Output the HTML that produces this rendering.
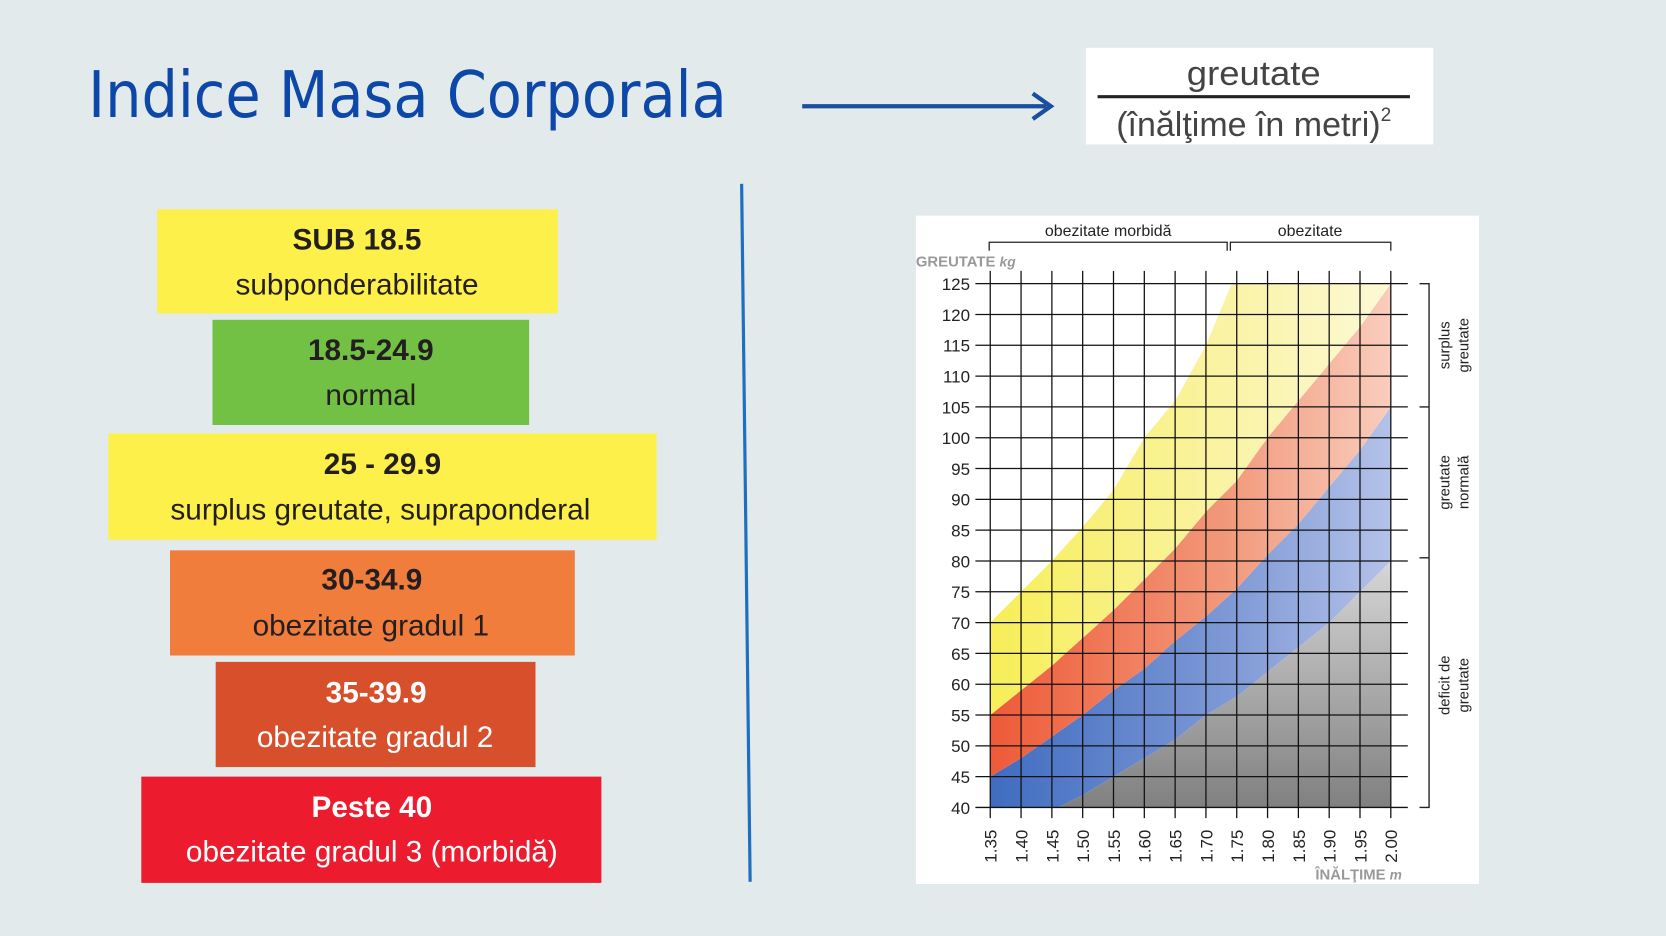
<!DOCTYPE html>
<html><head><meta charset="utf-8"><style>
html,body{margin:0;padding:0;background:#e2eaec;}
svg{display:block}
.nar{font-family:"Liberation Sans Narrow","Liberation Sans",sans-serif;}
</style></head><body>
<svg id="s" width="1666" height="936" viewBox="0 0 1568 881" preserveAspectRatio="none" xmlns="http://www.w3.org/2000/svg">
<defs>
<linearGradient id="gy" x1="932" x2="1309" y1="0" y2="0" gradientUnits="userSpaceOnUse"><stop offset="0" stop-color="#f7ee58"/><stop offset="0.6" stop-color="#faf3a6"/><stop offset="1" stop-color="#fdf9d6"/></linearGradient>
<linearGradient id="gr" x1="932" x2="1309" y1="0" y2="0" gradientUnits="userSpaceOnUse"><stop offset="0" stop-color="#ee5a38"/><stop offset="0.6" stop-color="#f29a7c"/><stop offset="1" stop-color="#f9cdbd"/></linearGradient>
<linearGradient id="gb" x1="932" x2="1309" y1="0" y2="0" gradientUnits="userSpaceOnUse"><stop offset="0" stop-color="#3f6cc0"/><stop offset="0.6" stop-color="#7f99d6"/><stop offset="1" stop-color="#b4c2e8"/></linearGradient>
<linearGradient id="gg" x1="0" x2="0" y1="760" y2="530" gradientUnits="userSpaceOnUse"><stop offset="0" stop-color="#808080"/><stop offset="1" stop-color="#d6d6d6"/></linearGradient>
</defs>
<rect width="1568" height="881" fill="#e2eaec"/>
<text x="83" y="110" font-family="'DejaVu Sans','Liberation Sans',sans-serif" font-size="60" fill="#0d47a8" textLength="601" lengthAdjust="spacingAndGlyphs">Indice Masa Corporala</text>
<line x1="755" y1="100" x2="985" y2="100" stroke="#1a4fa0" stroke-width="4"/>
<path d="M972 88 L989 100 L972 112" fill="none" stroke="#1a4fa0" stroke-width="4"/>
<rect x="1022" y="45" width="327" height="91" fill="#fff"/>
<text x="1180" y="80" text-anchor="middle" class="nar" font-size="32" fill="#444" textLength="126" lengthAdjust="spacingAndGlyphs">greutate</text>
<line x1="1033" y1="91" x2="1327" y2="91" stroke="#222" stroke-width="3"/>
<text x="1180" y="128" text-anchor="middle" class="nar" font-size="32" fill="#444">(înălţime în metri)<tspan font-size="18" dy="-14">2</tspan></text>
<line x1="698" y1="173" x2="706" y2="830" stroke="#1f6fc1" stroke-width="3"/>
<g class="nar" text-anchor="middle" font-size="28">
<rect x="148" y="197" width="377" height="98" fill="#fdf04a"/>
<text x="336" y="235" font-weight="bold" fill="#231f20">SUB 18.5</text>
<text x="336" y="277" fill="#231f20">subponderabilitate</text>
<rect x="200" y="301" width="298" height="99" fill="#72c044"/>
<text x="349" y="339" font-weight="bold" fill="#231f20">18.5-24.9</text>
<text x="349" y="381" fill="#231f20">normal</text>
<rect x="102" y="408" width="516" height="100" fill="#fdf04a"/>
<text x="360" y="446" font-weight="bold" fill="#231f20">25 - 29.9</text>
<text x="358" y="489" fill="#231f20">surplus greutate, supraponderal</text>
<rect x="160" y="518" width="381" height="99" fill="#f07d3c"/>
<text x="350" y="555" font-weight="bold" fill="#231f20">30-34.9</text>
<text x="349" y="598" fill="#231f20">obezitate gradul 1</text>
<rect x="203" y="623" width="301" height="99" fill="#d84f2c"/>
<text x="354" y="661" font-weight="bold" fill="#fff">35-39.9</text>
<text x="353" y="703" fill="#fff">obezitate gradul 2</text>
<rect x="133" y="731" width="433" height="100" fill="#ec1c2e"/>
<text x="350" y="769" font-weight="bold" fill="#fff">Peste 40</text>
<text x="350" y="811" fill="#fff">obezitate gradul 3 (morbidă)</text>
</g>
<rect x="862" y="203" width="530" height="629" fill="#fff"/>
<g id="bands"></g>
<g id="grid" stroke="#111" stroke-width="1.2"></g>
<g id="lab" font-family="'Liberation Sans',sans-serif" font-size="16" fill="#222"></g>
<g font-family="'Liberation Sans',sans-serif" font-size="15" fill="#222" text-anchor="middle">
<text x="1043" y="222">obezitate morbidă</text>
<text x="1233" y="222">obezitate</text>
</g>
<path d="M931 236 V228 H1155 V236 M1158 236 V228 H1309 V236" fill="none" stroke="#222" stroke-width="1.2"/>
<text x="862" y="251" font-family="'Liberation Sans',sans-serif" font-size="14" font-weight="bold" fill="#999">GREUTATE <tspan font-style="italic" font-size="13">kg</tspan></text>
<text x="1238" y="828" font-family="'Liberation Sans',sans-serif" font-size="14" font-weight="bold" fill="#999">ÎNĂLŢIME <tspan font-style="italic" font-size="13">m</tspan></text>
<path d="M1336 267 H1345 V760 H1336 M1336 383 H1345 M1336 525 H1345" fill="none" stroke="#222" stroke-width="1.3"/>
<g font-family="'Liberation Sans',sans-serif" font-size="14" fill="#222" text-anchor="middle">
<text transform="translate(1364,325) rotate(-90)">surplus</text>
<text transform="translate(1382,325) rotate(-90)">greutate</text>
<text transform="translate(1364,454) rotate(-90)">greutate</text>
<text transform="translate(1382,454) rotate(-90)">normală</text>
<text transform="translate(1364,645) rotate(-90)">deficit de</text>
<text transform="translate(1382,645) rotate(-90)">greutate</text>
</g>
</svg>
<script>
(function(){
var NS="http://www.w3.org/2000/svg";
function X(h){return 932+580*(h-1.35);}
function Y(w){return 760-(w-40)*5.8;}
function el(p,t,a){var e=document.createElementNS(NS,t);for(var k in a)e.setAttribute(k,a[k]);document.getElementById(p).appendChild(e);return e;}
var hs=[1.35,1.40,1.45,1.50,1.55,1.60,1.65,1.70,1.75,1.80,1.85,1.90,1.95,2.00];
var B0=[40,40,40,40,40,40,40,40,40,40,40,40,40,40];
var B1=[37,38.5,39.5,42,45,48,51,55,58,62,66,70,75,80];
var B2=[45,48,51.5,55,59,62.5,67,71,75.5,81,86,92,98,105];
var B3=[55,59,63,67.5,72,77,82,88,93,100,106,112,118,125];
var B4=[70,75,80,85.5,91.5,100,106,115,127,135,145,155,165,175];
function cl(w){return Math.max(40,Math.min(125,w));}
function band(lo,hi,fill){
  var pts=[],i;
  // fine sampling with linear interpolation, clipped
  for(i=0;i<=130;i++){var h=1.35+i*0.005,k=Math.min(12,Math.floor(i/10)),f=(h-hs[k])/0.05;
    pts.push(X(h).toFixed(1)+","+Y(cl(hi[k]+(hi[k+1]-hi[k])*f)).toFixed(1));}
  for(i=130;i>=0;i--){var h=1.35+i*0.005,k=Math.min(12,Math.floor(i/10)),f=(h-hs[k])/0.05;
    pts.push(X(h).toFixed(1)+","+Y(cl(lo[k]+(lo[k+1]-lo[k])*f)).toFixed(1));}
  el("bands","polygon",{points:pts.join(" "),fill:fill});
}
band(B0,B1,"url(#gg)");
band(B1,B2,"url(#gb)");
band(B2,B3,"url(#gr)");
band(B3,B4,"url(#gy)");
for(var w=40;w<=125;w+=5){
  el("grid","line",{x1:918,x2:1325,y1:Y(w),y2:Y(w)});
  var t=el("lab","text",{x:913,y:Y(w)+6,"text-anchor":"end"});t.textContent=w;
}
for(var i=0;i<=13;i++){
  var h=1.35+i*0.05,x=X(h);
  el("grid","line",{x1:x,x2:x,y1:255,y2:770});
  var t=el("lab","text",{transform:"translate("+(x+6)+",812) rotate(-90)"});t.textContent=h.toFixed(2);
}
})();
</script>
</body></html>
